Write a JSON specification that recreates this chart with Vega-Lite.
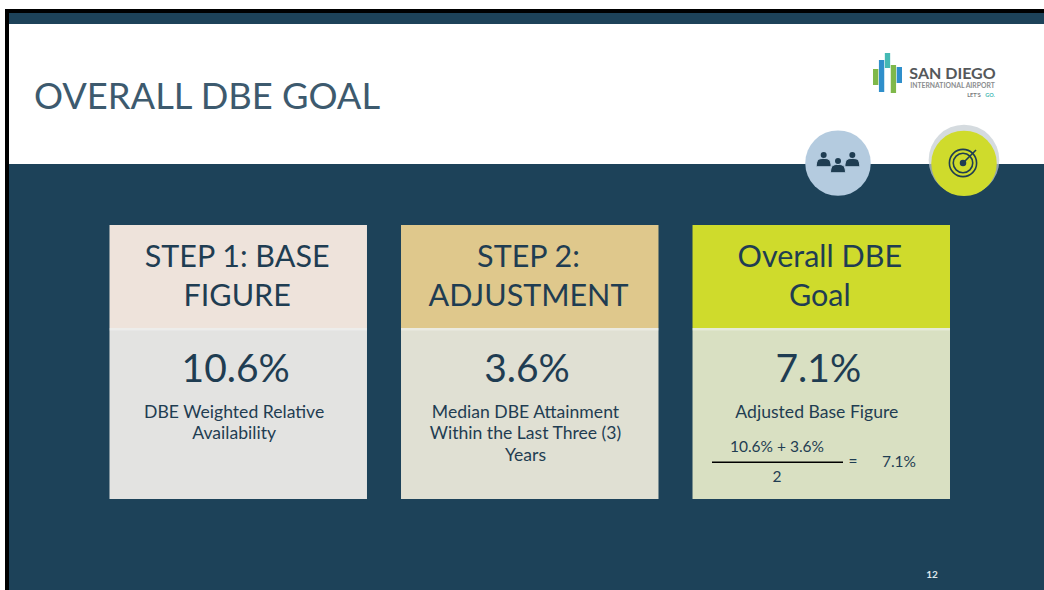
{"$schema":"https://vega.github.io/schema/vega-lite/v6.json","width":1044,"height":590,"padding":0,"autosize":{"type":"none"},"background":"#ffffff","config":{"view":{"stroke":null},"text":{"font":"Lato"}},"resolve":{"scale":{"x":"independent","y":"independent","color":"independent"}},"layer":[
{"data":{"values":[{"part":"frame"}]},"mark":{"type":"rect","color":"#000000"},"encoding":{"x":{"field":"part","type":"nominal","axis":null,"scale":{"type":"band","domain":["frame"],"range":[5,1044],"paddingInner":0,"paddingOuter":0}},"y":{"field":"part","type":"nominal","axis":null,"scale":{"type":"band","domain":["frame"],"range":[9,590],"paddingInner":0,"paddingOuter":0}}}},
{"data":{"values":[{"part":"slide"}]},"mark":{"type":"rect","color":"#1d4259"},"encoding":{"x":{"field":"part","type":"nominal","axis":null,"scale":{"type":"band","domain":["slide"],"range":[9,1044],"paddingInner":0,"paddingOuter":0}},"y":{"field":"part","type":"nominal","axis":null,"scale":{"type":"band","domain":["slide"],"range":[13,590],"paddingInner":0,"paddingOuter":0}}}},
{"data":{"values":[{"part":"banner"}]},"mark":{"type":"rect","color":"#ffffff"},"encoding":{"x":{"field":"part","type":"nominal","axis":null,"scale":{"type":"band","domain":["banner"],"range":[9,1044],"paddingInner":0,"paddingOuter":0}},"y":{"field":"part","type":"nominal","axis":null,"scale":{"type":"band","domain":["banner"],"range":[24,164],"paddingInner":0,"paddingOuter":0}}}},
{"data":{"values":[{"t":"OVERALL DBE GOAL"}]},"mark":{"type":"text","font":"Lato","fontSize":36.3,"color":"#3d5a6e","baseline":"middle","align":"center"},"encoding":{"x":{"field":"t","type":"nominal","axis":null,"scale":{"type":"band","domain":["OVERALL DBE GOAL"],"range":[34,380]}},"y":{"field":"t","type":"nominal","axis":null,"scale":{"type":"band","domain":["OVERALL DBE GOAL"],"range":[88,108]}},"text":{"field":"t"}}},
{"data":{"values":[{"b":"a","top":16,"bottom":32,"c":"g"},{"b":"b","top":7,"bottom":39,"c":"b"},{"b":"c","top":0,"bottom":15,"c":"t"},{"b":"d","top":12,"bottom":40,"c":"g"},{"b":"e","top":14,"bottom":30,"c":"b"}]},"mark":{"type":"bar"},"encoding":{"x":{"field":"b","type":"nominal","axis":null,"scale":{"type":"band","domain":["a","b","c","d","e"],"range":[873,902],"paddingInner":0.1,"paddingOuter":0}},"y":{"field":"top","type":"quantitative","axis":null,"scale":{"domain":[0,40],"range":[53,93]}},"y2":{"field":"bottom"},"color":{"field":"c","type":"nominal","legend":null,"scale":{"domain":["g","b","t"],"range":["#7fb84a","#2f8fcb","#45b9b4"]}}}},
{"data":{"values":[{"t":"SAN DIEGO","l":"1"}]},"mark":{"type":"text","baseline":"middle","align":"center","color":"#55585a","fontWeight":"bold","fontSize":16},"encoding":{"x":{"field":"t","type":"nominal","axis":null,"scale":{"type":"band","domain":["SAN DIEGO"],"range":[951.5,953.5]}},"y":{"field":"l","type":"nominal","axis":null,"scale":{"type":"band","domain":["1"],"range":[72.5,74.5]}},"text":{"field":"t"}}},
{"data":{"values":[{"t":"INTERNATIONAL AIRPORT","l":"2"}]},"mark":{"type":"text","baseline":"middle","align":"center","color":"#8a8c8e","fontWeight":"bold","fontSize":6.8},"encoding":{"x":{"field":"t","type":"nominal","axis":null,"scale":{"type":"band","domain":["INTERNATIONAL AIRPORT"],"range":[951.5,953.5]}},"y":{"field":"l","type":"nominal","axis":null,"scale":{"type":"band","domain":["2"],"range":[85,87]}},"text":{"field":"t"}}},
{"data":{"values":[{"t":"LET'S","c":"a"},{"t":"GO.","c":"b"}]},"mark":{"type":"text","baseline":"middle","align":"center","fontSize":5.5,"fontWeight":"bold"},"encoding":{"x":{"field":"t","type":"nominal","axis":null,"scale":{"type":"band","domain":["LET'S","GO."],"range":[966,998]}},"y":{"field":"c","type":"nominal","axis":null,"scale":{"type":"band","domain":["a","b"],"range":[94.5,95.5],"paddingInner":0,"paddingOuter":0}},"color":{"field":"c","type":"nominal","legend":null,"scale":{"domain":["a","b"],"range":["#77797b","#45b9b4"]}},"text":{"field":"t"}}},
{"data":{"values":[{"c":"target"}]},"mark":{"type":"point","filled":true,"color":"#c3ccd2","opacity":0.7,"size":5000},"encoding":{"x":{"field":"c","type":"nominal","axis":null,"scale":{"type":"band","domain":["target"],"range":[963,965]}},"y":{"field":"c","type":"nominal","axis":null,"scale":{"type":"band","domain":["target"],"range":[159,161]}}}},
{"data":{"values":[{"c":"people"},{"c":"target"}]},"mark":{"type":"point","filled":true,"opacity":1,"size":4290},"encoding":{"x":{"field":"c","type":"nominal","axis":null,"scale":{"type":"band","domain":["people","target"],"range":[775,1027],"paddingInner":0,"paddingOuter":0}},"y":{"field":"c","type":"nominal","axis":null,"scale":{"type":"band","domain":["people","target"],"range":[163,163.5],"paddingInner":0,"paddingOuter":0}},"color":{"field":"c","type":"nominal","legend":null,"scale":{"domain":["people","target"],"range":["#b4cbdf","#cfdb2c"]}}}},
{"data":{"values":[{"p":"l","r":"u"},{"p":"r","r":"u"},{"p":"m","r":"d"}]},"mark":{"type":"point","filled":true,"opacity":1,"shape":"M-1,0.5 C-1,-0.6 -0.5,-0.6 0,-0.6 C0.5,-0.6 1,-0.6 1,0.5 Z","color":"#1f3d52","size":225,"stroke":"#b4cbdf","strokeWidth":1},"encoding":{"x":{"field":"p","type":"nominal","axis":null,"scale":{"type":"band","domain":["l","m","r"],"range":[816.5,859.5],"paddingInner":0,"paddingOuter":0}},"y":{"field":"r","type":"nominal","axis":null,"scale":{"type":"band","domain":["u","d"],"range":[160,172],"paddingInner":0,"paddingOuter":0}}}},
{"data":{"values":[{"p":"l","r":"u"},{"p":"r","r":"u"},{"p":"m","r":"d"}]},"mark":{"type":"point","filled":true,"opacity":1,"color":"#1f3d52","size":36},"encoding":{"x":{"field":"p","type":"nominal","axis":null,"scale":{"type":"band","domain":["l","m","r"],"range":[816.5,859.5],"paddingInner":0,"paddingOuter":0}},"y":{"field":"r","type":"nominal","axis":null,"scale":{"type":"band","domain":["u","d"],"range":[152,164],"paddingInner":0,"paddingOuter":0}}}},
{"data":{"values":[{"ring":"outer"}]},"mark":{"type":"point","filled":false,"opacity":1,"color":"#1f3d52","strokeWidth":1.6,"size":740},"encoding":{"x":{"field":"ring","type":"nominal","axis":null,"scale":{"type":"band","domain":["outer"],"range":[962,964]}},"y":{"field":"ring","type":"nominal","axis":null,"scale":{"type":"band","domain":["outer"],"range":[162,164]}}}},
{"data":{"values":[{"ring":"inner"}]},"mark":{"type":"point","filled":false,"opacity":1,"color":"#1f3d52","strokeWidth":1.6,"size":380},"encoding":{"x":{"field":"ring","type":"nominal","axis":null,"scale":{"type":"band","domain":["inner"],"range":[962,964]}},"y":{"field":"ring","type":"nominal","axis":null,"scale":{"type":"band","domain":["inner"],"range":[162,164]}}}},
{"data":{"values":[{"ring":"dot"}]},"mark":{"type":"point","filled":true,"opacity":1,"color":"#1f3d52","size":42},"encoding":{"x":{"field":"ring","type":"nominal","axis":null,"scale":{"type":"band","domain":["dot"],"range":[962,964]}},"y":{"field":"ring","type":"nominal","axis":null,"scale":{"type":"band","domain":["dot"],"range":[162,164]}}}},
{"data":{"values":[{"end":"tail"},{"end":"tip"}]},"mark":{"type":"line","color":"#1f3d52","strokeWidth":1.6},"encoding":{"x":{"field":"end","type":"nominal","axis":null,"scale":{"type":"point","domain":["tail","tip"],"range":[963,976],"padding":0}},"y":{"field":"end","type":"nominal","axis":null,"scale":{"type":"point","domain":["tail","tip"],"range":[163,150],"padding":0}}}},
{"data":{"values":[{"card":"STEP 1","section":"header"},{"card":"STEP 2","section":"header"},{"card":"Overall DBE Goal","section":"header"}]},"mark":{"type":"rect"},"encoding":{"x":{"field":"card","type":"nominal","axis":null,"scale":{"type":"band","domain":["STEP 1","STEP 2","Overall DBE Goal"],"range":[109.5,950],"paddingInner":0.1167,"paddingOuter":0}},"y":{"field":"section","type":"nominal","axis":null,"scale":{"type":"band","domain":["header"],"range":[225,328],"paddingInner":0,"paddingOuter":0}},"color":{"field":"card","type":"nominal","legend":null,"scale":{"domain":["STEP 1","STEP 2","Overall DBE Goal"],"range":["#eee3db","#dfc88c","#cfdb2c"]}}}},
{"data":{"values":[{"card":"STEP 1","section":"body"},{"card":"STEP 2","section":"body"},{"card":"Overall DBE Goal","section":"body"}]},"mark":{"type":"rect"},"encoding":{"x":{"field":"card","type":"nominal","axis":null,"scale":{"type":"band","domain":["STEP 1","STEP 2","Overall DBE Goal"],"range":[109.5,950],"paddingInner":0.1167,"paddingOuter":0}},"y":{"field":"section","type":"nominal","axis":null,"scale":{"type":"band","domain":["body"],"range":[328,499],"paddingInner":0,"paddingOuter":0}},"color":{"field":"card","type":"nominal","legend":null,"scale":{"domain":["STEP 1","STEP 2","Overall DBE Goal"],"range":["#e3e3e1","#e0e0d3","#d9e0c2"]}}}},
{"data":{"values":[{"card":"STEP 1","section":"seam"},{"card":"STEP 2","section":"seam"},{"card":"Overall DBE Goal","section":"seam"}]},"mark":{"type":"rect","color":"#ffffff","opacity":0.35},"encoding":{"x":{"field":"card","type":"nominal","axis":null,"scale":{"type":"band","domain":["STEP 1","STEP 2","Overall DBE Goal"],"range":[109.5,950],"paddingInner":0.1167,"paddingOuter":0}},"y":{"field":"section","type":"nominal","axis":null,"scale":{"type":"band","domain":["seam"],"range":[328,330.5],"paddingInner":0,"paddingOuter":0}}}},
{"data":{"values":[{"card":"STEP 1","l":"1","t":"STEP 1: BASE"},{"card":"STEP 1","l":"2","t":"FIGURE"},{"card":"STEP 2","l":"1","t":"STEP 2:"},{"card":"STEP 2","l":"2","t":"ADJUSTMENT"},{"card":"Overall DBE Goal","l":"1","t":"Overall DBE"},{"card":"Overall DBE Goal","l":"2","t":"Goal"}]},"mark":{"type":"text","fontSize":30.5,"color":"#1f3d52","baseline":"middle","align":"center"},"encoding":{"x":{"field":"card","type":"nominal","axis":null,"scale":{"type":"band","domain":["STEP 1","STEP 2","Overall DBE Goal"],"range":[108.5,948.5],"paddingInner":0.1167,"paddingOuter":0}},"y":{"field":"l","type":"nominal","axis":null,"scale":{"type":"band","domain":["1","2"],"range":[238.5,316.5],"paddingInner":0,"paddingOuter":0}},"text":{"field":"t"}}},
{"data":{"values":[{"card":"STEP 1","t":"10.6%","s":"big"},{"card":"STEP 2","t":"3.6%","s":"big"},{"card":"Overall DBE Goal","t":"7.1%","s":"big"}]},"mark":{"type":"text","fontSize":39,"color":"#1f3d52","baseline":"middle","align":"center"},"encoding":{"x":{"field":"card","type":"nominal","axis":null,"scale":{"type":"band","domain":["STEP 1","STEP 2","Overall DBE Goal"],"range":[107,947],"paddingInner":0.1167,"paddingOuter":0}},"y":{"field":"s","type":"nominal","axis":null,"scale":{"type":"band","domain":["big"],"range":[360,380]}},"text":{"field":"t"}}},
{"data":{"values":[{"card":"STEP 1","l":"1","t":"DBE Weighted Relative"},{"card":"STEP 1","l":"2","t":"Availability"},{"card":"STEP 2","l":"1","t":"Median DBE Attainment"},{"card":"STEP 2","l":"2","t":"Within the Last Three (3)"},{"card":"STEP 2","l":"3","t":"Years"},{"card":"Overall DBE Goal","l":"1","t":"Adjusted Base Figure"}]},"mark":{"type":"text","fontSize":17.6,"color":"#1f3d52","baseline":"middle","align":"center"},"encoding":{"x":{"field":"card","type":"nominal","axis":null,"scale":{"type":"band","domain":["STEP 1","STEP 2","Overall DBE Goal"],"range":[105.5,945.5],"paddingInner":0.1167,"paddingOuter":0}},"y":{"field":"l","type":"nominal","axis":null,"scale":{"type":"band","domain":["1","2","3"],"range":[402,466.5],"paddingInner":0,"paddingOuter":0}},"text":{"field":"t"}}},
{"data":{"values":[{"t":"10.6% + 3.6%","l":"n","f":"fraction"},{"t":"2","l":"d","f":"fraction"}]},"mark":{"type":"text","fontSize":15.5,"color":"#1f3d52","baseline":"middle","align":"center"},"encoding":{"x":{"field":"f","type":"nominal","axis":null,"scale":{"type":"band","domain":["fraction"],"range":[775,779]}},"y":{"field":"l","type":"nominal","axis":null,"scale":{"type":"band","domain":["n","d"],"range":[432,492],"paddingInner":0,"paddingOuter":0}},"text":{"field":"t"}}},
{"data":{"values":[{"part":"bar"}]},"mark":{"type":"rect","color":"#000000"},"encoding":{"x":{"field":"part","type":"nominal","axis":null,"scale":{"type":"band","domain":["bar"],"range":[712,843],"paddingInner":0,"paddingOuter":0}},"y":{"field":"part","type":"nominal","axis":null,"scale":{"type":"band","domain":["bar"],"range":[461.5,463],"paddingInner":0,"paddingOuter":0}}}},
{"data":{"values":[{"t":"=","s":"result"},{"t":"7.1%","s":"result"}]},"mark":{"type":"text","fontSize":15.5,"color":"#1f3d52","baseline":"middle","align":"center"},"encoding":{"x":{"field":"t","type":"nominal","axis":null,"scale":{"type":"band","domain":["=","7.1%"],"range":[830,922],"paddingInner":0,"paddingOuter":0}},"y":{"field":"s","type":"nominal","axis":null,"scale":{"type":"band","domain":["result"],"range":[461,463]}},"text":{"field":"t"}}},
{"data":{"values":[{"t":"12"}]},"mark":{"type":"text","fontSize":10,"fontWeight":"bold","color":"#dfe6ea","baseline":"middle","align":"center"},"encoding":{"x":{"field":"t","type":"nominal","axis":null,"scale":{"type":"band","domain":["12"],"range":[930,934]}},"y":{"field":"t","type":"nominal","axis":null,"scale":{"type":"band","domain":["12"],"range":[573,577]}},"text":{"field":"t"}}}
]}
